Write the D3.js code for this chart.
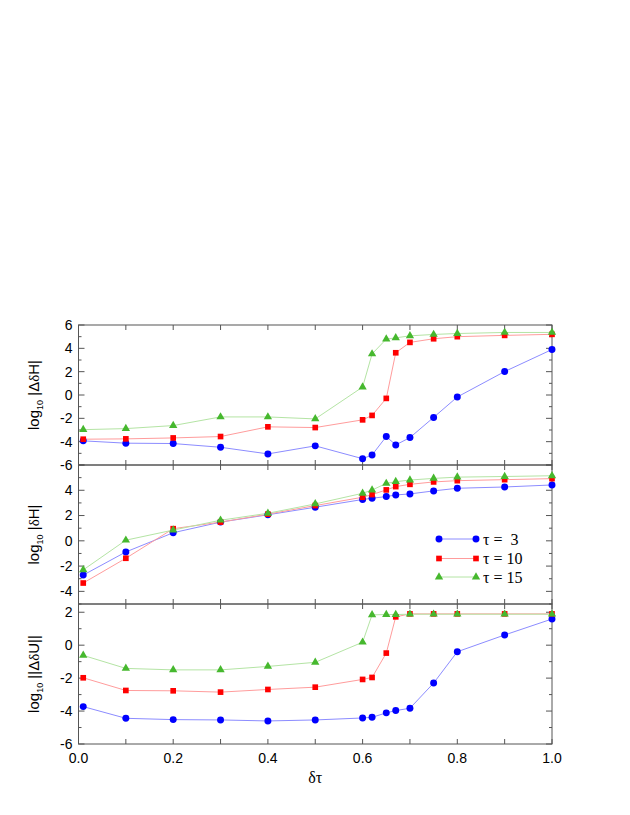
<!DOCTYPE html>
<html>
<head>
<meta charset="utf-8">
<script src="https://cdn.jsdelivr.net/npm/d3@7"></script>
<style>
  body { margin: 0; background: #fff; }
  svg text { fill: #000; }
</style>
</head>
<body>
<div id="chart"></div>
<script>
// step sizes (x) shared by all three panels
const steps = [0.01, 0.1, 0.2, 0.3, 0.4, 0.5, 0.6, 0.62, 0.65, 0.67, 0.7, 0.75, 0.8, 0.9, 1.0];
const seriesNames = ["τ =  3", "τ = 10", "τ = 15"];

// top panel: log10 |ΔδH|
const dH_tau3  = [-3.93, -4.13, -4.16, -4.48, -5.05, -4.36, -5.46, -5.14, -3.56, -4.28, -3.65, -1.92, -0.17, 2.01, 3.90];
const dH_tau10 = [-3.79, -3.76, -3.68, -3.56, -2.73, -2.79, -2.13, -1.75, -0.29, 3.62, 4.51, 4.82, 5.00, 5.11, 5.20];
const dH_tau15 = [-2.97, -2.88, -2.62, -1.88, -1.88, -2.05, 0.68, 3.52, 4.79, 4.90, 5.07, 5.19, 5.27, 5.36, 5.36];

// middle panel: log10 |δH|
const H_tau3  = [-2.71, -0.88, 0.64, 1.48, 2.06, 2.66, 3.27, 3.37, 3.50, 3.63, 3.71, 3.95, 4.16, 4.26, 4.42];
const H_tau10 = [-3.34, -1.38, 0.96, 1.48, 2.11, 2.79, 3.45, 3.66, 4.03, 4.29, 4.47, 4.66, 4.76, 4.84, 4.92];
const H_tau15 = [-2.30, 0.05, 0.85, 1.63, 2.18, 2.92, 3.76, 4.02, 4.54, 4.68, 4.81, 4.94, 5.04, 5.09, 5.15];

// bottom panel: log10 ||ΔδU||
const U_tau3  = [-3.73, -4.44, -4.52, -4.54, -4.60, -4.54, -4.42, -4.38, -4.11, -3.97, -3.83, -2.30, -0.40, 0.62, 1.59];
const U_tau10 = [-1.98, -2.75, -2.77, -2.85, -2.69, -2.55, -2.08, -1.96, -0.48, 1.72, 1.90, 1.90, 1.90, 1.90, 1.90];
const U_tau15 = [-0.62, -1.41, -1.50, -1.50, -1.29, -1.04, 0.18, 1.84, 1.86, 1.86, 1.88, 1.88, 1.88, 1.88, 1.88];

const xTickLabels = [0.0, 0.2, 0.4, 0.6, 0.8, 1.0];

const width = 630, height = 815;
const left = 78.5, right = 552;

const colors = [
  {line: "#8c8cff", mark: "#0000ff"},
  {line: "#ff9c9c", mark: "#ff0000"},
  {line: "#b4e4a4", mark: "#46b82e"}
];
const shapes = [d3.symbolCircle, d3.symbolSquare, d3.symbolTriangle];
const sizes = [38, 32, 30];

const panels = [
  {top: 325, bottom: 465, domain: [-6, 6], ticks: [-6, -4, -2, 0, 2, 4, 6], series: [dH_tau3, dH_tau10, dH_tau15], title: ["|Δ", "δ", "H|"]},
  {top: 465, bottom: 604, domain: [-5, 6], ticks: [-4, -2, 0, 2, 4], series: [H_tau3, H_tau10, H_tau15], title: ["|", "δ", "H|"]},
  {top: 604, bottom: 744, domain: [-6, 2.5], ticks: [-6, -4, -2, 0, 2], series: [U_tau3, U_tau10, U_tau15], title: ["||Δ", "δ", "U||"]}
];

const svg = d3.select("#chart").append("svg")
    .attr("width", width)
    .attr("height", height);

const x = d3.scaleLinear().domain([0, 1]).range([left, right]);
const xMinor = d3.range(0, 1.0001, 0.1);

panels.forEach(function(p, i) {
  const y = d3.scaleLinear().domain(p.domain).range([p.bottom, p.top]);
  const g = svg.append("g");

  // frame
  g.append("rect")
      .attr("x", left).attr("y", p.top)
      .attr("width", right - left).attr("height", p.bottom - p.top)
      .attr("fill", "none").attr("stroke", "#555").attr("stroke-width", 1);

  const yMinor = d3.range(Math.ceil(p.domain[0]), Math.floor(p.domain[1]) + 1);

  // left and right inward ticks
  g.append("g").selectAll("line")
      .data(yMinor)
      .join("line")
      .attr("x1", left).attr("x2", function(d) { return left + (d % 2 === 0 ? 6 : 3); })
      .attr("y1", function(d) { return y(d); }).attr("y2", function(d) { return y(d); })
      .attr("stroke", "#555");
  g.append("g").selectAll("line")
      .data(yMinor)
      .join("line")
      .attr("x1", right).attr("x2", function(d) { return right - (d % 2 === 0 ? 6 : 3); })
      .attr("y1", function(d) { return y(d); }).attr("y2", function(d) { return y(d); })
      .attr("stroke", "#555");

  // top and bottom inward ticks
  g.append("g").selectAll("line")
      .data(xMinor)
      .join("line")
      .attr("x1", function(d) { return x(d); }).attr("x2", function(d) { return x(d); })
      .attr("y1", p.top).attr("y2", p.top + 5)
      .attr("stroke", "#555");
  g.append("g").selectAll("line")
      .data(xMinor)
      .join("line")
      .attr("x1", function(d) { return x(d); }).attr("x2", function(d) { return x(d); })
      .attr("y1", p.bottom).attr("y2", p.bottom - 5)
      .attr("stroke", "#555");

  // y tick labels
  g.append("g").selectAll("text")
      .data(p.ticks)
      .join("text")
      .attr("x", left - 6)
      .attr("y", function(d) { return y(d); })
      .attr("dy", "0.35em")
      .attr("text-anchor", "end")
      .style("font", "14px 'Liberation Sans', Arial, sans-serif")
      .text(function(d) { return d; });

  // y title
  const cy = (p.top + p.bottom) / 2;
  const t = g.append("text")
      .attr("transform", "translate(39," + cy + ") rotate(-90)")
      .attr("text-anchor", "middle")
      .style("font", "15px 'Liberation Sans', Arial, sans-serif");
  t.append("tspan").text("log");
  t.append("tspan").attr("dy", 4).style("font-size", "9px").text("10");
  t.append("tspan").attr("dy", -4).text(" " + p.title[0]);
  t.append("tspan").style("font-family", "'Liberation Serif', 'Times New Roman', serif").text(p.title[1]);
  t.append("tspan").text(p.title[2]);

  // series
  const line = d3.line()
      .x(function(d, j) { return x(steps[j]); })
      .y(function(d) { return y(d); });

  p.series.forEach(function(vals, k) {
    g.append("path")
        .datum(vals)
        .attr("d", line)
        .attr("fill", "none")
        .attr("stroke", colors[k].line)
        .attr("stroke-width", 1);
  });
  p.series.forEach(function(vals, k) {
    g.append("g").selectAll("path")
        .data(vals)
        .join("path")
        .attr("transform", function(d, j) { return "translate(" + x(steps[j]) + "," + y(d) + ")"; })
        .attr("d", d3.symbol().type(shapes[k]).size(sizes[k]))
        .attr("fill", colors[k].mark);
  });
});

// x tick labels under the bottom panel
svg.append("g").selectAll("text")
    .data(xTickLabels)
    .join("text")
    .attr("x", function(d) { return x(d); })
    .attr("y", 763)
    .attr("text-anchor", "middle")
    .style("font", "14px 'Liberation Sans', Arial, sans-serif")
    .text(function(d) { return d.toFixed(1); });

svg.append("text")
    .attr("x", (left + right) / 2)
    .attr("y", 783)
    .attr("text-anchor", "middle")
    .style("font", "16px 'Liberation Serif', 'Times New Roman', serif")
    .text("δτ");

// legend in the middle panel
const legend = svg.append("g");
const legendY = [539, 558.5, 577];
seriesNames.forEach(function(name, k) {
  legend.append("line")
      .attr("x1", 439).attr("x2", 476)
      .attr("y1", legendY[k]).attr("y2", legendY[k])
      .attr("stroke", colors[k].line);
  [439, 476].forEach(function(lx) {
    legend.append("path")
        .attr("transform", "translate(" + lx + "," + legendY[k] + ")")
        .attr("d", d3.symbol().type(shapes[k]).size(sizes[k]))
        .attr("fill", colors[k].mark);
  });
  legend.append("text")
      .attr("x", 483)
      .attr("y", legendY[k])
      .attr("dy", "0.35em")
      .attr("xml:space", "preserve")
      .style("white-space", "pre")
      .style("font", "16px 'Liberation Serif', 'Times New Roman', serif")
      .text(name);
});
</script>
</body>
</html>
